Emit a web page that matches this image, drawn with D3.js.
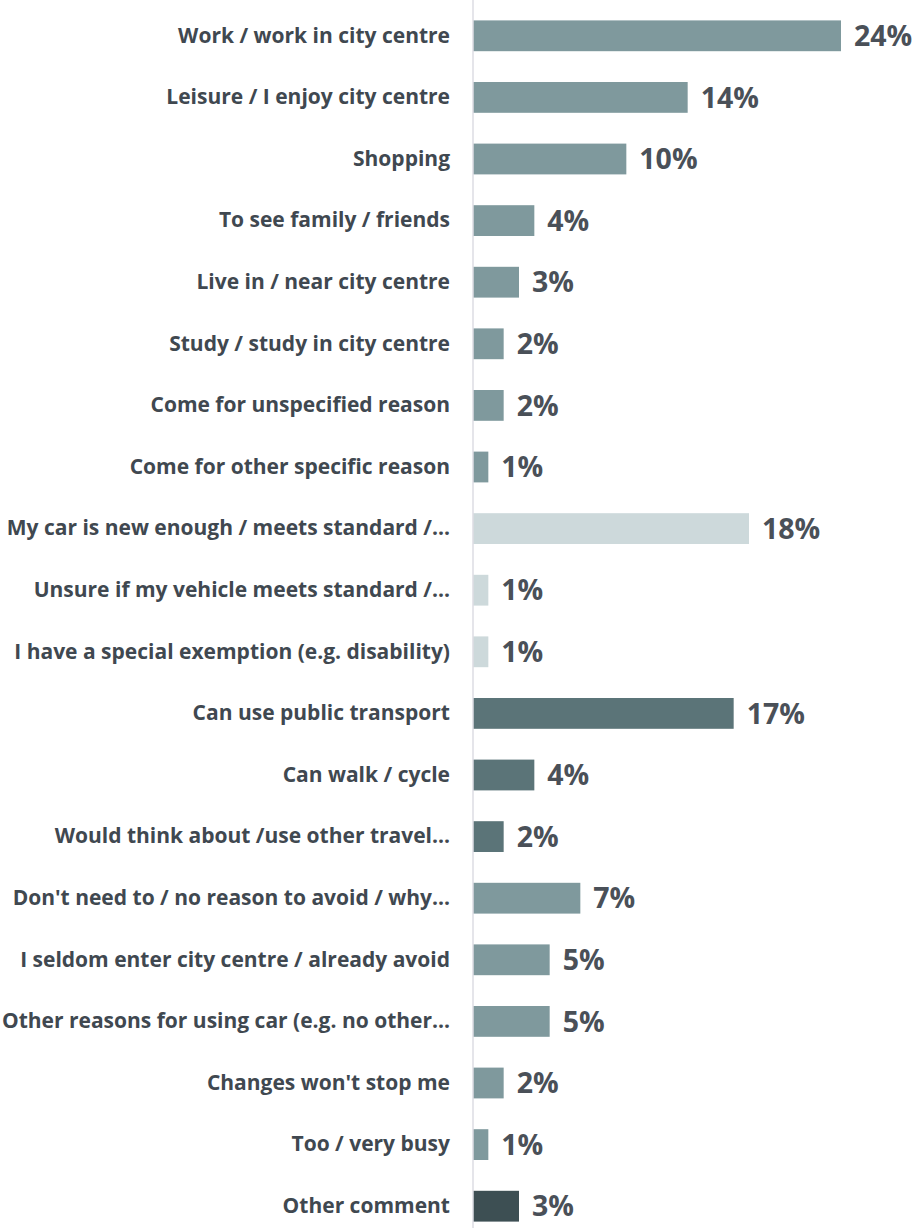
<!DOCTYPE html>
<html>
<head>
<meta charset="utf-8">
<script src="https://cdn.jsdelivr.net/npm/d3@7"></script>
<style>
  html, body { margin: 0; padding: 0; background: #ffffff; }
  svg { display: block; }
</style>
</head>
<body>
<svg id="chart" width="914" height="1228"></svg>
<script>
// Reasons given, top to bottom
const categories = [
  "Work / work in city centre",
  "Leisure / I enjoy city centre",
  "Shopping",
  "To see family / friends",
  "Live in / near city centre",
  "Study / study in city centre",
  "Come for unspecified reason",
  "Come for other specific reason",
  "My car is new enough / meets standard /...",
  "Unsure if my vehicle meets standard /...",
  "I have a special exemption (e.g. disability)",
  "Can use public transport",
  "Can walk / cycle",
  "Would think about /use other travel...",
  "Don't need to / no reason to avoid / why...",
  "I seldom enter city centre / already avoid",
  "Other reasons for using car (e.g. no other...",
  "Changes won't stop me",
  "Too / very busy",
  "Other comment"
];

// Share of responses (%)
const values = [24, 14, 10, 4, 3, 2, 2, 1, 18, 1, 1, 17, 4, 2, 7, 5, 5, 2, 1, 3];

// Theme group of each reason
const groups = [
  "reason", "reason", "reason", "reason", "reason", "reason", "reason", "reason",
  "vehicle", "vehicle", "vehicle",
  "alternative", "alternative", "alternative",
  "reason", "reason", "reason", "reason", "reason",
  "other"
];

const groupNames = ["reason", "vehicle", "alternative", "other"];
const groupColors = ["#7f999d", "#cdd9db", "#5b7478", "#3d4f53"];

const data = categories.map((c, i) => ({ category: c, value: values[i], group: groups[i] }));

const svg = d3.select("#chart");
const axisX = 473;

const x = d3.scaleLinear().domain([0, 24]).range([axisX, 841]);
const y = d3.scaleBand().domain(categories).range([5, 1237]).paddingInner(0.5).paddingOuter(0.25);
const color = d3.scaleOrdinal().domain(groupNames).range(groupColors);

// Bars
svg.append("g")
  .selectAll("rect")
  .data(data)
  .join("rect")
  .attr("x", x(0))
  .attr("y", d => y(d.category))
  .attr("width", d => x(d.value) - x(0))
  .attr("height", y.bandwidth())
  .attr("fill", d => color(d.group));

// Vertical category axis line
svg.append("line")
  .attr("x1", axisX).attr("x2", axisX)
  .attr("y1", 0).attr("y2", 1228)
  .attr("stroke", "#dcdce3")
  .attr("stroke-width", 1.5);

// Category labels
const yAxis = d3.axisLeft(y).tickSize(0).tickPadding(23);
const gy = svg.append("g").attr("transform", `translate(${axisX},0)`).call(yAxis);
gy.select(".domain").remove();
gy.selectAll("text")
  .attr("fill", "#404850")
  .style("font-family", "'Open Sans', Lato, sans-serif")
  .style("font-weight", "700")
  .style("font-size", "21px");

// Value labels
svg.append("g")
  .selectAll("text")
  .data(data)
  .join("text")
  .attr("x", d => x(d.value) + 13)
  .attr("y", d => y(d.category) + y.bandwidth() / 2)
  .attr("dy", "0.36em")
  .attr("fill", "#4a5058")
  .style("font-family", "'Open Sans', Lato, sans-serif")
  .style("font-weight", "700")
  .style("font-size", "28.5px")
  .text(d => d.value + "%");
</script>
</body>
</html>
